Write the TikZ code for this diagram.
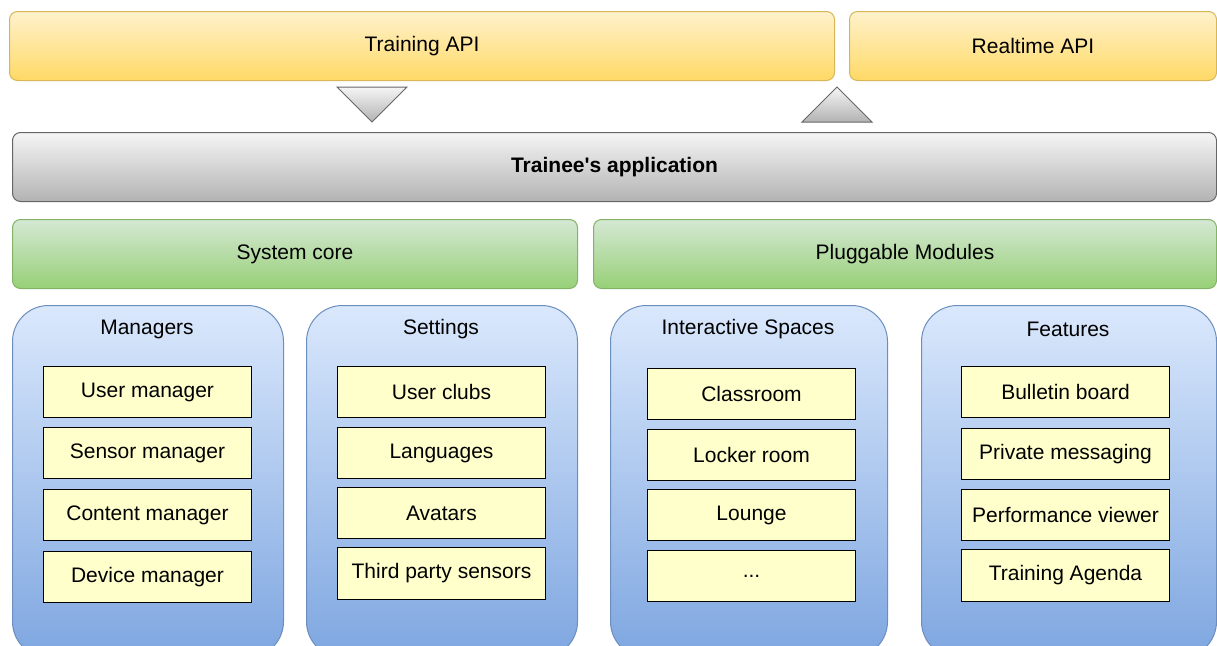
\documentclass[tikz,border=0pt]{standalone}
\usepackage{fontspec}
\setmainfont{Liberation Sans}[Ligatures=TeXOff]
\definecolor{apiTop}{HTML}{FFF2CC}
\definecolor{apiBot}{HTML}{FFD966}
\definecolor{apiLine}{HTML}{D6B656}
\definecolor{appTop}{HTML}{F5F5F5}
\definecolor{appBot}{HTML}{B3B3B3}
\definecolor{appLine}{HTML}{666666}
\definecolor{coreTop}{HTML}{D5E8D4}
\definecolor{coreBot}{HTML}{97D077}
\definecolor{coreLine}{HTML}{82B366}
\definecolor{grpTop}{HTML}{DAE8FC}
\definecolor{grpBot}{HTML}{7EA6E0}
\definecolor{grpLine}{HTML}{6C8EBF}
\definecolor{itemFill}{HTML}{FFFFCC}
\begin{document}
\begin{tikzpicture}[x=1pt,y=-1pt,
  txt/.style={font=\fontsize{21}{24}\selectfont, text=black},
  base/.style={txt, anchor=north west, inner sep=0pt, line width=1pt},
  apibox/.style={base, draw=apiLine, rounded corners=8pt, top color=apiTop, bottom color=apiBot},
  appbar/.style={base, draw=appLine, rounded corners=8pt, top color=appTop, bottom color=appBot, font=\fontsize{21}{24}\selectfont\bfseries},
  corebox/.style={base, draw=coreLine, rounded corners=8pt, top color=coreTop, bottom color=coreBot},
  groupbox/.style={base, draw=grpLine, rounded corners=36pt, top color=grpTop, bottom color=grpBot},
  itembox/.style={base, draw=black, fill=itemFill, minimum width=208pt, minimum height=51pt},
  grouptitle/.style={txt, inner sep=0pt},
  pointer/.style={draw=appLine, line width=1pt, top color=appTop, bottom color=appBot, line join=miter}
]
\useasboundingbox (0,0) rectangle (1217,645);
\clip (0,0) rectangle (1217,645);

% interfaces
\node[apibox, minimum width=825pt, minimum height=69pt] (train) at (9,11) {Training API};
\node[apibox, minimum width=367pt, minimum height=69pt] (rt) at (849,11) {Realtime API};

% direction markers between the interfaces and the application
\path[pointer] (337,87) -- (407,87) -- (372,122) -- cycle;
\path[pointer] (802,122) -- (872,122) -- (837,87) -- cycle;

% application layer
\node[appbar, minimum width=1204pt, minimum height=69pt] (app) at (12,132) {Trainee's application};

% core and modules
\node[corebox, minimum width=565pt, minimum height=69pt] (core) at (12,219) {System core};
\node[corebox, minimum width=623pt, minimum height=69pt] (mods) at (593,219) {Pluggable Modules};

% groups (their lower edge runs past the bottom of the page)
\node[groupbox, minimum width=271pt, minimum height=352pt] (mgr) at (12,305) {};
\node[groupbox, minimum width=271pt, minimum height=352pt] (set) at (306,305) {};
\node[groupbox, minimum width=277pt, minimum height=352pt] (spc) at (610,305) {};
\node[groupbox, minimum width=295pt, minimum height=352pt] (fea) at (921,305) {};

\node[grouptitle] (mgrT) at (147,329) {Managers};
\node[grouptitle] (setT) at (441,329) {Settings};
\node[grouptitle] (spcT) at (748,329) {Interactive Spaces};
\node[grouptitle] (feaT) at (1068,329) {Features};

% managers
\node[itembox] (m1) at (43,366) {User manager};
\node[itembox] (m2) at (43,427) {Sensor manager};
\node[itembox] (m3) at (43,489) {Content manager};
\node[itembox] (m4) at (43,551) {Device manager};

% settings
\node[itembox] (s1) at (337,366) {User clubs};
\node[itembox] (s2) at (337,427) {Languages};
\node[itembox] (s3) at (337,487) {Avatars};
\node[itembox, minimum height=52pt] (s4) at (337,547) {Third party sensors};

% interactive spaces
\node[itembox] (i1) at (647,368) {Classroom};
\node[itembox] (i2) at (647,429) {Locker room};
\node[itembox] (i3) at (647,489) {Lounge};
\node[itembox] (i4) at (647,550) {...};

% features
\node[itembox] (f1) at (961,366) {Bulletin board};
\node[itembox] (f2) at (961,428) {Private messaging};
\node[itembox] (f3) at (961,489) {Performance viewer};
\node[itembox, minimum height=52pt] (f4) at (961,549) {Training Agenda};
\end{tikzpicture}
\end{document}
